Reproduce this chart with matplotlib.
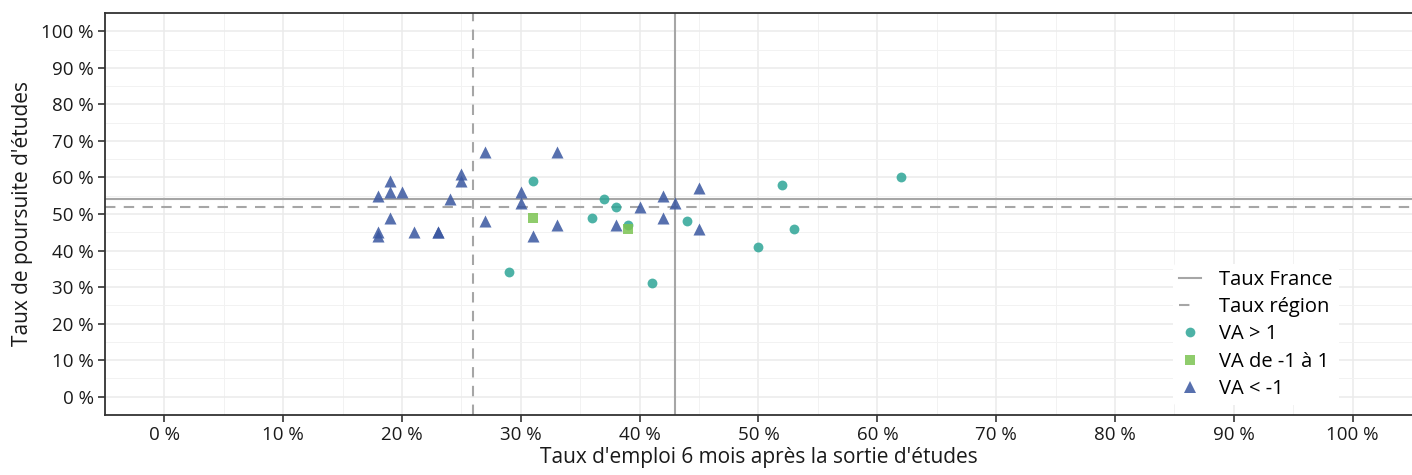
import numpy as np
import matplotlib
matplotlib.use("Agg")
import matplotlib.pyplot as plt
from matplotlib.lines import Line2D
from matplotlib.ticker import MultipleLocator, FuncFormatter

plt.rcParams['font.family'] = ['Open Sans', 'DejaVu Sans']

# taux d'emploi (x) / taux de poursuite (y), en %
va_sup_x = [29, 31, 36, 37, 38, 39, 41, 44, 50, 52, 53, 62]
va_sup_y = [34, 59, 49, 54, 52, 47, 31, 48, 41, 58, 46, 60]

va_mid_x = [31, 39]
va_mid_y = [49, 46]

va_inf_x = [18, 18, 18, 19, 19, 19, 20, 21, 23, 23, 24, 25, 25, 27, 27, 30, 30,
            31, 33, 33, 38, 40, 42, 42, 43, 45, 45]
va_inf_y = [55, 45, 44, 59, 56, 49, 56, 45, 45, 45, 54, 61, 59, 67, 48, 56, 53,
            44, 67, 47, 47, 52, 55, 49, 53, 57, 46]

taux_france = (43, 54)
taux_region = (26, 52)

c_sup = '#2ea597'
c_mid = '#7cc452'
c_inf = '#3a57a0'

fig = plt.figure(figsize=(14.12, 4.75), dpi=100)
ax = fig.add_axes([105 / 1412, 60 / 475, 1307 / 1412, 402 / 475])

ax.set_xlim(-5, 105)
ax.set_ylim(-5, 105)

ax.xaxis.set_major_locator(MultipleLocator(10))
ax.yaxis.set_major_locator(MultipleLocator(10))
ax.xaxis.set_minor_locator(MultipleLocator(5))
ax.yaxis.set_minor_locator(MultipleLocator(5))
fmt = FuncFormatter(lambda v, p: f"{v:.0f} %")
ax.xaxis.set_major_formatter(fmt)
ax.yaxis.set_major_formatter(fmt)

ax.grid(which='major', color='#ebebeb', lw=1.1, zorder=0)
ax.grid(which='minor', color='#f2f2f2', lw=0.7, zorder=0)
ax.set_axisbelow(True)

ax.tick_params(which='major', length=5, width=1.2, color='#333333',
               labelsize=13.5, labelcolor='#1a1a1a', pad=3)
ax.tick_params(which='minor', length=0)
for s in ax.spines.values():
    s.set_color('#333333')
    s.set_linewidth(1.3)
ax.spines['right'].set_visible(False)

ax.axvline(taux_france[0], color='#a6a6a6', lw=1.5, zorder=1)
ax.axhline(taux_france[1], color='#a6a6a6', lw=1.5, zorder=1)
ax.axvline(taux_region[0], color='#a6a6a6', lw=1.5, ls=(0, (5, 4)), zorder=1)
ax.axhline(taux_region[1], color='#a6a6a6', lw=1.5, ls=(0, (5, 4)), zorder=1)

ax.scatter(va_sup_x, va_sup_y, marker='o', s=50, color=c_sup, alpha=0.85,
           lw=0, zorder=3)
ax.scatter(va_mid_x, va_mid_y, marker='s', s=50, color=c_mid, alpha=0.85,
           lw=0, zorder=3)
ax.scatter(va_inf_x, va_inf_y, marker='^', s=75, color=c_inf, alpha=0.85,
           lw=0, zorder=3)

ax.set_xlabel("Taux d'emploi 6 mois après la sortie d'études", fontsize=15,
              color='#1a1a1a', labelpad=2)
ax.set_ylabel("Taux de poursuite d'études", fontsize=15, color='#1a1a1a',
              labelpad=6)

handles = [
    Line2D([], [], color='#a6a6a6', lw=1.5),
    Line2D([], [], color='#a6a6a6', lw=1.5, ls=(0, (5, 12))),
    Line2D([], [], marker='o', ls='', color=c_sup, alpha=0.85, ms=7, mew=0),
    Line2D([], [], marker='s', ls='', color=c_mid, alpha=0.85, ms=7, mew=0),
    Line2D([], [], marker='^', ls='', color=c_inf, alpha=0.85, ms=8.5, mew=0),
]
labels = ["Taux France", "Taux région", "VA > 1", "VA de -1 à 1", "VA < -1"]
leg = ax.legend(handles, labels, loc='lower left',
                bbox_to_anchor=((1163 - 105) / 1307, 0.0),
                frameon=True, fontsize=14.5, handlelength=1.1,
                handletextpad=0.9, labelspacing=0.36, borderpad=0.3)
leg.get_frame().set_facecolor('white')
leg.get_frame().set_edgecolor('none')
leg.get_frame().set_alpha(1)

fig.savefig("out.png", dpi=100)
